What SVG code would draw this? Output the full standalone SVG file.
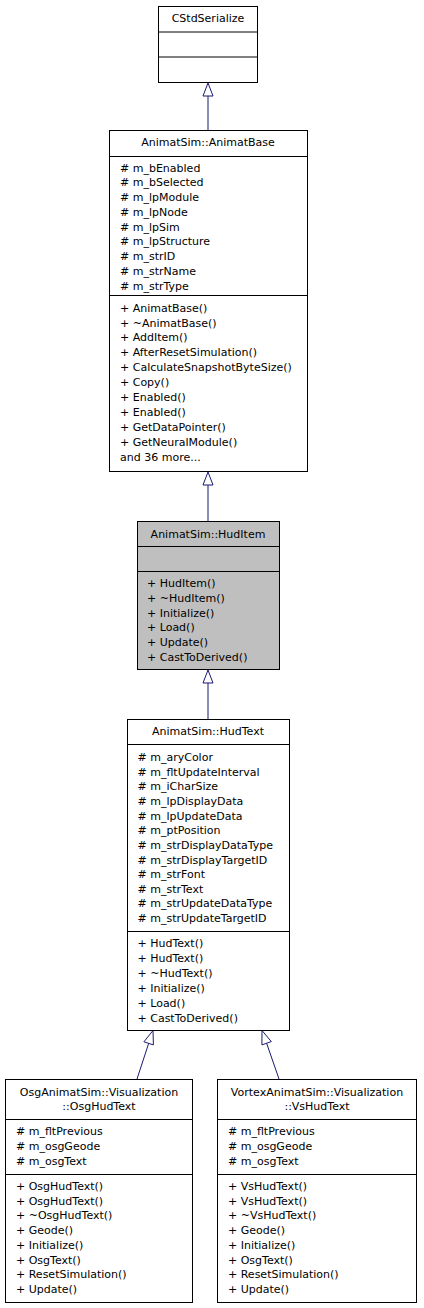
<svg xmlns="http://www.w3.org/2000/svg" width="424" height="1308" viewBox="0 0 424 1308">
<style>
text{font-family:"DejaVu Sans","Liberation Sans",sans-serif;font-size:11px;fill:#000}
.t{text-anchor:middle}
.box{fill:#fff;stroke:#000;stroke-width:1}
.cur{fill:#bfbfbf;stroke:#000;stroke-width:1}
.div{stroke:#000;stroke-width:1}
.edge{stroke:#191970;stroke-width:1;fill:none}
.head{fill:#fff;stroke:#191970;stroke-width:1}
</style>
<rect width="424" height="1308" fill="#fff"/>
<g id="connectors">
<line class="edge" x1="208" y1="96" x2="208" y2="130"/>
<polygon class="head" points="208,83 203,96 213,96"/>
<line class="edge" x1="208" y1="485" x2="208" y2="521"/>
<polygon class="head" points="208,472 203,485 213,485"/>
<line class="edge" x1="208" y1="683" x2="208" y2="719"/>
<polygon class="head" points="208,670 203,683 213,683"/>
<line class="edge" x1="148.7" y1="1043.3" x2="137" y2="1079"/>
<polygon class="head" points="153,1030.5 153.4,1044.9 143.9,1041.8"/>
<line class="edge" x1="266.6" y1="1043.2" x2="279" y2="1079"/>
<polygon class="head" points="262,1030.5 271.3,1041.6 261.9,1044.9"/>
</g>
<g id="CStdSerialize">
<rect class="box" x="158.5" y="6.5" width="99" height="76"/>
<line class="div" x1="158.5" y1="32" x2="257.5" y2="32"/>
<line class="div" x1="158.5" y1="57" x2="257.5" y2="57"/>
<text class="t" x="208" y="21.5">CStdSerialize</text>
</g>
<g id="AnimatBase">
<rect class="box" x="109.5" y="130.5" width="198" height="341"/>
<line class="div" x1="109.5" y1="156.5" x2="307.5" y2="156.5"/>
<line class="div" x1="109.5" y1="295.5" x2="307.5" y2="295.5"/>
<text class="t" x="208" y="146">AnimatSim::AnimatBase</text>
<text x="120" y="171.5"># m_bEnabled</text>
<text x="120" y="186.25"># m_bSelected</text>
<text x="120" y="201"># m_lpModule</text>
<text x="120" y="215.75"># m_lpNode</text>
<text x="120" y="230.5"># m_lpSim</text>
<text x="120" y="245.25"># m_lpStructure</text>
<text x="120" y="260"># m_strID</text>
<text x="120" y="274.75"># m_strName</text>
<text x="120" y="289.5"># m_strType</text>
<text x="120" y="311.5">+ AnimatBase()</text>
<text x="120" y="326.5">+ ~AnimatBase()</text>
<text x="120" y="341.4">+ AddItem()</text>
<text x="120" y="356.4">+ AfterResetSimulation()</text>
<text x="120" y="371.3">+ CalculateSnapshotByteSize()</text>
<text x="120" y="386.3">+ Copy()</text>
<text x="120" y="401.2">+ Enabled()</text>
<text x="120" y="416.2">+ Enabled()</text>
<text x="120" y="431.1">+ GetDataPointer()</text>
<text x="120" y="446.1">+ GetNeuralModule()</text>
<text x="120" y="461">and 36 more...</text>
</g>
<g id="HudItem">
<rect class="cur" x="137.5" y="521.5" width="142" height="148"/>
<line class="div" x1="137.5" y1="546.5" x2="279.5" y2="546.5"/>
<line class="div" x1="137.5" y1="571.5" x2="279.5" y2="571.5"/>
<text class="t" x="208" y="537.5">AnimatSim::HudItem</text>
<text x="147" y="587">+ HudItem()</text>
<text x="147" y="601.8">+ ~HudItem()</text>
<text x="147" y="616.6">+ Initialize()</text>
<text x="147" y="631.4">+ Load()</text>
<text x="147" y="646.2">+ Update()</text>
<text x="147" y="661">+ CastToDerived()</text>
</g>
<g id="HudText">
<rect class="box" x="127.5" y="719.5" width="162" height="311"/>
<line class="div" x1="127.5" y1="744.5" x2="289.5" y2="744.5"/>
<line class="div" x1="127.5" y1="931.5" x2="289.5" y2="931.5"/>
<text class="t" x="208" y="735">AnimatSim::HudText</text>
<text x="137.5" y="761"># m_aryColor</text>
<text x="137.5" y="775.6"># m_fltUpdateInterval</text>
<text x="137.5" y="790.3"># m_iCharSize</text>
<text x="137.5" y="804.9"># m_lpDisplayData</text>
<text x="137.5" y="819.6"># m_lpUpdateData</text>
<text x="137.5" y="834.2"># m_ptPosition</text>
<text x="137.5" y="848.8"># m_strDisplayDataType</text>
<text x="137.5" y="863.5"># m_strDisplayTargetID</text>
<text x="137.5" y="878.1"># m_strFont</text>
<text x="137.5" y="892.8"># m_strText</text>
<text x="137.5" y="907.4"># m_strUpdateDataType</text>
<text x="137.5" y="922"># m_strUpdateTargetID</text>
<text x="137.5" y="946.5">+ HudText()</text>
<text x="137.5" y="961.5">+ HudText()</text>
<text x="137.5" y="976.5">+ ~HudText()</text>
<text x="137.5" y="991.5">+ Initialize()</text>
<text x="137.5" y="1006.5">+ Load()</text>
<text x="137.5" y="1021.5">+ CastToDerived()</text>
</g>
<g id="OsgHudText">
<rect class="box" x="5.5" y="1079.5" width="187" height="223"/>
<line class="div" x1="5.5" y1="1119.5" x2="192.5" y2="1119.5"/>
<line class="div" x1="5.5" y1="1174.5" x2="192.5" y2="1174.5"/>
<text class="t" x="99" y="1096">OsgAnimatSim::Visualization</text>
<text class="t" x="99" y="1110">::OsgHudText</text>
<text x="16" y="1135"># m_fltPrevious</text>
<text x="16" y="1150"># m_osgGeode</text>
<text x="16" y="1165"># m_osgText</text>
<text x="16" y="1190">+ OsgHudText()</text>
<text x="16" y="1204.7">+ OsgHudText()</text>
<text x="16" y="1219.4">+ ~OsgHudText()</text>
<text x="16" y="1234.1">+ Geode()</text>
<text x="16" y="1248.9">+ Initialize()</text>
<text x="16" y="1263.6">+ OsgText()</text>
<text x="16" y="1278.3">+ ResetSimulation()</text>
<text x="16" y="1293">+ Update()</text>
</g>
<g id="VsHudText">
<rect class="box" x="217.5" y="1079.5" width="199" height="223"/>
<line class="div" x1="217.5" y1="1119.5" x2="416.5" y2="1119.5"/>
<line class="div" x1="217.5" y1="1174.5" x2="416.5" y2="1174.5"/>
<text class="t" x="317" y="1096">VortexAnimatSim::Visualization</text>
<text class="t" x="317" y="1110">::VsHudText</text>
<text x="228" y="1135"># m_fltPrevious</text>
<text x="228" y="1150"># m_osgGeode</text>
<text x="228" y="1165"># m_osgText</text>
<text x="228" y="1190">+ VsHudText()</text>
<text x="228" y="1204.7">+ VsHudText()</text>
<text x="228" y="1219.4">+ ~VsHudText()</text>
<text x="228" y="1234.1">+ Geode()</text>
<text x="228" y="1248.9">+ Initialize()</text>
<text x="228" y="1263.6">+ OsgText()</text>
<text x="228" y="1278.3">+ ResetSimulation()</text>
<text x="228" y="1293">+ Update()</text>
</g>
</svg>
